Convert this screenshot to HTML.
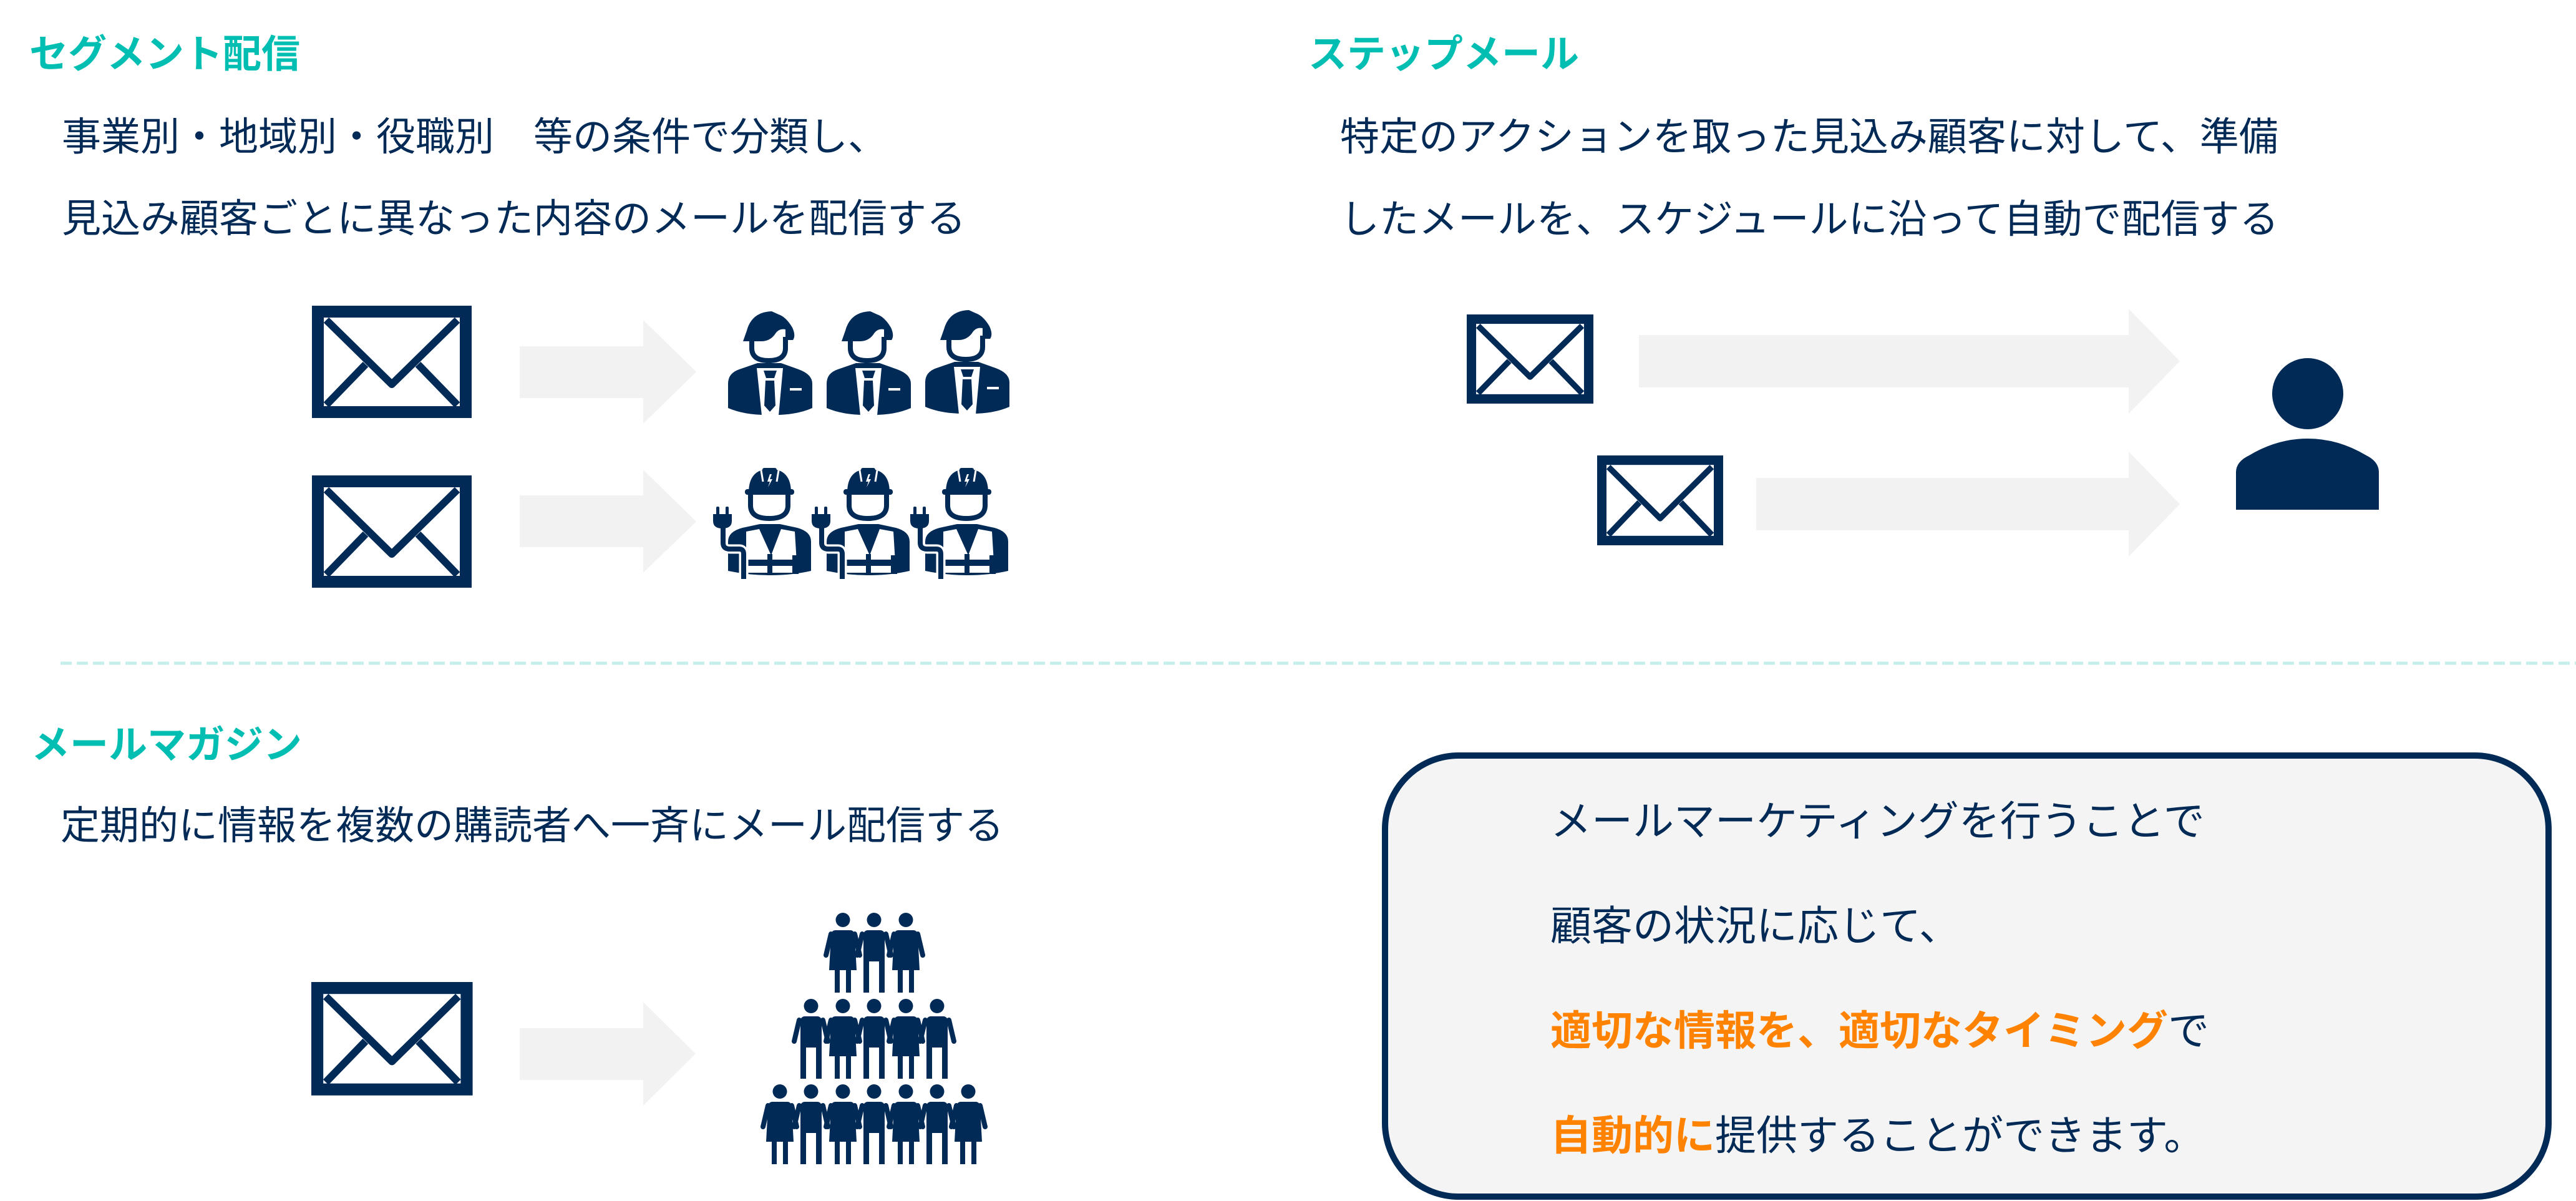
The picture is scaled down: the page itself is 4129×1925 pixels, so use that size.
<!DOCTYPE html>
<html><head><meta charset="utf-8">
<style>
html,body{margin:0;padding:0;background:#fff;}
body{width:4129px;height:1925px;position:relative;overflow:hidden;font-family:"Liberation Sans","Noto Sans CJK JP",sans-serif;color:#022a56;}
.t{position:absolute;white-space:nowrap;line-height:1;}
.h{color:#00bfb2;font-weight:bold;font-size:62px;}
.b{font-size:63px;}
.x{font-size:66px;}
.o{color:#ff8200;font-weight:bold;}
svg{position:absolute;left:0;top:0;}
</style></head><body>
<svg width="4129" height="1925" viewBox="0 0 4129 1925">
<defs>
<g id="env">
<rect x="9.5" y="9.5" width="237" height="161" fill="#fff" stroke="#022a56" stroke-width="19"/>
<path d="M23 23 L128 126 L233 23" fill="none" stroke="#022a56" stroke-width="12" stroke-linejoin="round"/>
<path d="M23 159 L86 94 M233 159 L170 94" fill="none" stroke="#022a56" stroke-width="12"/>
</g>
<g id="biz">
<path d="M51 67 L57 50 Q65 20 97 19 L108 24 Q120 28 130 45 Q136 58 131 65 L119 65 L119 48 Q108 46 102 56 Q94 67 80 67 Z" fill="#022a56"/>
<path d="M65 62 L65 78 Q65 98 92 98 Q119 98 119 78 L119 60" fill="none" stroke="#022a56" stroke-width="8"/>
<path d="M27 174 L27 135 Q27 118 45 112 L74 102 L112 102 L140 112 Q162 120 162 135 L162 174 Q135 186 95 185 Q55 186 27 174 Z" fill="#022a56"/>
<polygon points="73,110 115,110 108,186 81,186" fill="#fff"/>
<polygon points="84,114 105,114 101,126 88,126" fill="#022a56"/>
<polygon points="87,130 101,130 103,170 94,180 85,170" fill="#022a56"/>
<rect x="126" y="142" width="19" height="4" fill="#fff"/>
</g>
<g id="wrk">
<rect x="92" y="10" width="23" height="16" rx="3" fill="#022a56"/>
<path d="M70 50 Q70 14 100 12 L108 12 Q138 14 138 50 Z" fill="#022a56"/>
<path d="M90 14 L93 32 M118 14 L115 32" stroke="#fff" stroke-width="3"/>
<polygon points="104,20 100,32 104,32 101,41 108,28 104,28 107,20" fill="#fff"/>
<rect x="64" y="44" width="79" height="9" rx="4" fill="#022a56"/>
<path d="M73 53 L73 70 Q73 91 103 91 Q133 91 133 70 L133 53" fill="none" stroke="#022a56" stroke-width="8"/>
<path d="M37 175 L37 128 Q37 112 60 106 L88 100 L120 100 L148 106 Q170 112 170 128 L170 175 Q140 182 104 182 Q70 182 37 175 Z" fill="#022a56"/>
<polygon points="66,112 87,108 106,150 122,108 144,112 148,178 66,178" fill="#fff"/>
<rect x="100" y="148" width="8" height="34" fill="#022a56"/>
<rect x="68" y="157" width="80" height="10" fill="#022a56"/>
<rect x="140" y="150" width="10" height="30" fill="#022a56"/>
<path d="M29 105 L29 130 Q29 140 40 140 L55 140 Q62 140 62 148 L62 188" fill="none" stroke="#fff" stroke-width="15"/>
<path d="M29 105 L29 130 Q29 140 40 140 L55 140 Q62 140 62 148 L62 188" fill="none" stroke="#022a56" stroke-width="8"/>
<rect x="18" y="72" width="5" height="16" rx="2" fill="#022a56"/>
<rect x="33" y="72" width="5" height="16" rx="2" fill="#022a56"/>
<path d="M13 84 L43 84 L43 95 Q43 107 28 107 Q13 107 13 95 Z" fill="#022a56"/>
</g>
<g id="m">
<circle cx="0" cy="11.5" r="11.5" fill="#022a56"/>
<rect x="-17" y="28" width="34" height="50" rx="7" fill="#022a56"/>
<rect x="-17" y="70" width="9" height="58" fill="#022a56"/>
<rect x="8" y="70" width="9" height="58" fill="#022a56"/>
<path d="M-19 34 L-27 68 M19 34 L27 68" stroke="#022a56" stroke-width="8" stroke-linecap="round"/>
</g>
<g id="f">
<circle cx="0" cy="11.5" r="11.5" fill="#022a56"/>
<path d="M-12 28 L12 28 Q18 28 19 36 L22 92 L-22 92 L-19 36 Q-18 28 -12 28 Z" fill="#022a56"/>
<rect x="-13" y="88" width="8" height="40" fill="#022a56"/>
<rect x="5" y="88" width="8" height="40" fill="#022a56"/>
<path d="M-19 34 L-27 68 M19 34 L27 68" stroke="#022a56" stroke-width="8" stroke-linecap="round"/>
</g>
</defs>

<g fill="#f2f2f2">
<polygon points="833,555 1031,555 1031,513 1116,596 1031,679 1031,638 833,638"/>
<polygon points="833,794 1031,794 1031,753 1116,836 1031,918 1031,877 833,877"/>
<polygon points="833,1648 1031,1648 1031,1606 1115,1689 1031,1772 1031,1731 833,1731"/>
<polygon points="2627,537 3412,537 3412,495 3494,579 3412,663 3412,621 2627,621"/>
<polygon points="2815,766 3412,766 3412,724 3494,808 3412,892 3412,850 2815,850"/>
</g>

<use href="#env" transform="translate(500,490)"/>
<use href="#env" transform="translate(500,762)"/>
<use href="#env" transform="translate(499,1574) scale(1.01,1.01)"/>
<use href="#env" transform="translate(2351,504) scale(0.793,0.794)"/>
<use href="#env" transform="translate(2560,730) scale(0.789,0.8)"/>

<use href="#biz" transform="translate(1140,480)"/>
<use href="#biz" transform="translate(1298,480)"/>
<use href="#biz" transform="translate(1456,478)"/>
<use href="#wrk" transform="translate(1130,740)"/>
<use href="#wrk" transform="translate(1288,740)"/>
<use href="#wrk" transform="translate(1446,740)"/>

<use href="#f" x="1351" y="1463"/><use href="#m" x="1401" y="1463"/><use href="#f" x="1452" y="1463"/>
<use href="#m" x="1300" y="1601"/><use href="#f" x="1351" y="1601"/><use href="#m" x="1401" y="1601"/><use href="#f" x="1452" y="1601"/><use href="#m" x="1502" y="1601"/>
<use href="#f" x="1250" y="1738"/><use href="#m" x="1300" y="1738"/><use href="#f" x="1351" y="1738"/><use href="#m" x="1401" y="1738"/><use href="#f" x="1452" y="1738"/><use href="#m" x="1502" y="1738"/><use href="#f" x="1552" y="1738"/>

<circle cx="3699" cy="631" r="57" fill="#022a56"/>
<path d="M3584 817 L3584 757 Q3584 740 3605 730 Q3650 703 3699 703 Q3748 703 3793 730 Q3813 740 3813 757 L3813 817 Z" fill="#022a56"/>

<line x1="97" y1="1063" x2="4129" y2="1063" stroke="#c5eeea" stroke-width="5" stroke-dasharray="18 8"/>

<rect x="2220" y="1211" width="1865" height="707" rx="118" ry="118" fill="#f4f4f4" stroke="#022a56" stroke-width="10"/>
</svg>

<div class="t h" style="left:47px;top:57px;">セグメント配信</div>
<div class="t b" style="left:99px;top:189px;">事業別・地域別・役職別　等の条件で分類し、</div>
<div class="t b" style="left:99px;top:320px;">見込み顧客ごとに異なった内容のメールを配信する</div>

<div class="t h" style="left:2097px;top:57px;">ステップメール</div>
<div class="t b" style="left:2148px;top:189px;">特定のアクションを取った見込み顧客に対して、準備</div>
<div class="t b" style="left:2148px;top:321px;">したメールを、スケジュールに沿って自動で配信する</div>

<div class="t h" style="left:50px;top:1164px;">メールマガジン</div>
<div class="t b" style="left:97px;top:1293px;">定期的に情報を複数の購読者へ一斉にメール配信する</div>

<div class="t x" style="left:2485px;top:1283px;">メールマーケティングを行うことで</div>
<div class="t x" style="left:2485px;top:1451px;">顧客の状況に応じて、</div>
<div class="t x" style="left:2485px;top:1619px;"><span class="o">適切な情報を、適切なタイミング</span>で</div>
<div class="t x" style="left:2485px;top:1787px;"><span class="o">自動的に</span>提供することができます。</div>
</body></html>
